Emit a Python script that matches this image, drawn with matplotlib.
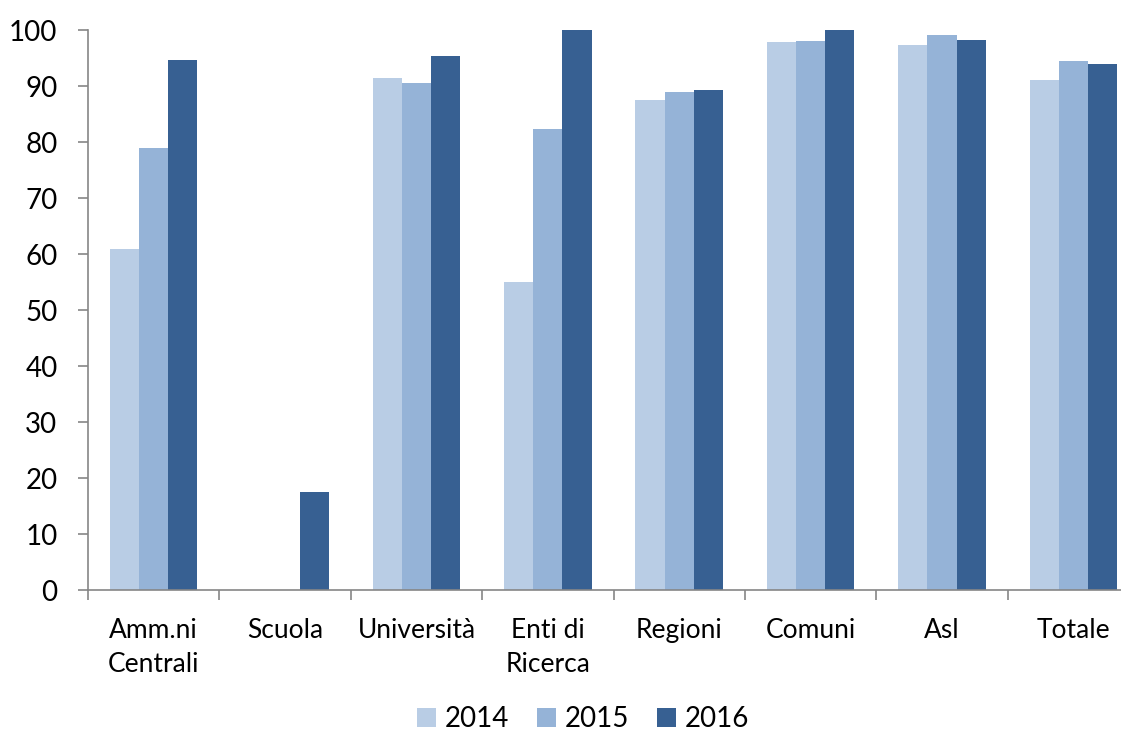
import matplotlib
matplotlib.use("Agg")
import matplotlib.pyplot as plt
import numpy as np

categories = ["Amm.ni\nCentrali", "Scuola", "Università", "Enti di\nRicerca",
              "Regioni", "Comuni", "Asl", "Totale"]
years = ["2014", "2015", "2016"]
v2014 = [61.0, 0, 91.4, 55.0, 87.5, 97.9, 97.3, 91.1]
v2015 = [79.0, 0, 90.5, 82.3, 88.9, 98.0, 99.1, 94.6]
v2016 = [94.7, 17.5, 95.4, 100.0, 89.4, 100.0, 98.3, 93.9]
colors = ["#B9CDE5", "#95B3D7", "#376092"]
yticks = list(range(0, 101, 10))

plt.rcParams['font.family'] = ['Lato', 'DejaVu Sans']

W, H = 1121, 731
fig = plt.figure(figsize=(W / 100, H / 100), dpi=100)
ax = fig.add_axes([88 / W, 140.7 / H, 1051 / W, 560 / H])

x = np.arange(len(categories))
bw = 1 / 4.5
series = [v2014, v2015, v2016]
for i, (vals, c, lab) in enumerate(zip(series, colors, years)):
    ax.bar(x + (i - 1) * bw, vals, width=bw, color=c, label=lab, linewidth=0)

ax.set_xlim(-0.5, len(categories) - 0.5)
ax.set_ylim(0, 100)
ax.set_yticks(yticks)
ax.set_yticklabels([str(t) for t in yticks], fontsize=20)
ax.set_xticks(x)
ax.set_xticklabels(categories, fontsize=19, linespacing=1.45, va='top')
ax.set_xticks(np.arange(-0.5, len(categories), 1), minor=True)
ax.tick_params(axis='x', which='major', length=0, pad=20)
ax.tick_params(axis='x', which='minor', length=7, width=1.2, color='#868686', direction='out')
ax.tick_params(axis='y', length=7, width=1.2, color='#868686', direction='out', pad=15)

for s in ['top', 'right']:
    ax.spines[s].set_visible(False)
for s in ['left', 'bottom']:
    ax.spines[s].set_color('#868686')
    ax.spines[s].set_linewidth(1.2)

fig.legend(loc='center', bbox_to_anchor=(583 / W, 12 / H), ncol=3, frameon=False,
           fontsize=20, handlelength=0.7, handleheight=0.7, handletextpad=0.3,
           columnspacing=1.0)

fig.savefig("out.png", dpi=100)
